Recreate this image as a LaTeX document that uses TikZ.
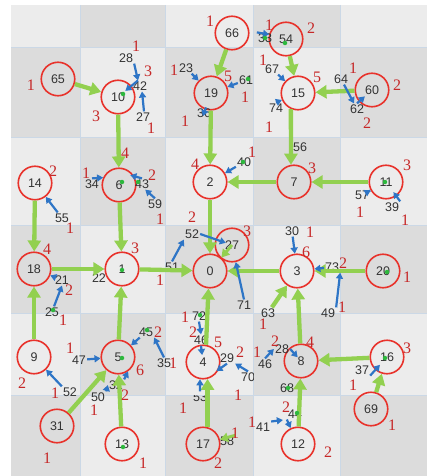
\documentclass[tikz,border=0pt]{standalone}
\usepackage{fontspec}
\setmainfont{Liberation Sans}
\newfontfamily\serifnum{Liberation Serif}
\usetikzlibrary{arrows.meta}
\definecolor{cellL}{HTML}{ECECEC}
\definecolor{cellD}{HTML}{DCDCDC}
\definecolor{gridc}{HTML}{CBD8E6}
\definecolor{circred}{HTML}{E8322B}
\definecolor{numred}{HTML}{C62828}
\definecolor{garrowc}{HTML}{92D050}
\definecolor{barrowc}{HTML}{2E75C6}
\definecolor{gdot}{HTML}{2DB83D}
\definecolor{txt}{HTML}{333333}
\tikzset{
 circ/.style={circle, draw=circred, line width=1.6pt, minimum size=33.5pt, inner sep=0pt, font=\fontsize{12.5}{12.5}\selectfont, text=txt},
 lab/.style={inner sep=1pt, font=\fontsize{12.5}{12.5}\selectfont, text=txt},
 rnum/.style={inner sep=0pt, font=\serifnum\fontsize{16}{16}\selectfont, text=numred},
 garr/.style={draw=garrowc, line width=4.3pt, -{Triangle[length=11pt,width=13pt]}},
 garrs/.style={draw=garrowc, line width=3pt, -{Triangle[length=8pt,width=9pt]}},
 barr/.style={draw=barrowc, line width=2.2pt, -{Triangle[length=6pt,width=7pt]}},
 gdotst/.style={circle, fill=gdot, inner sep=0pt, minimum size=4.5pt},
}
\begin{document}
\begin{tikzpicture}[x=1pt,y=-1pt]
\useasboundingbox (0,0) rectangle (427,476);
\fill[white] (0,0) rectangle (427,476);
% cells
\foreach \ri/\ya/\yb in {0/5/47,1/47/137,2/137/225,3/225/313,4/313/395,5/395/476}{
  \foreach \ci/\xa/\xb in {0/11/80,1/80/165,2/165/253,3/253/340,4/340/427}{
    \pgfmathtruncatemacro{\cellpar}{mod(\ri+\ci,2)}
    \ifnum\cellpar=0 \fill[cellL] (\xa,\ya) rectangle (\xb,\yb);
    \else \fill[cellD] (\xa,\ya) rectangle (\xb,\yb); \fi
  }
}
\foreach \gx in {80,165,253,340} \draw[gridc, line width=0.8pt] (\gx,5) -- (\gx,476);
\foreach \gy in {47,137,225,313,395} \draw[gridc, line width=0.8pt] (11,\gy) -- (427,\gy);

% circle nodes
\node[circ] (n65) at (58,79) {65};
\node[circ] (n10) at (118,97) {10};
\node[circ] (n66) at (232,33) {66};
\node[circ] (n54) at (286,39) {54};
\node[circ] (n19) at (211,93) {19};
\node[circ] (n15) at (298,93) {15};
\node[circ] (n60) at (372,90) {60};
\node[circ] (n14) at (35,183) {14};
\node[circ] (n6) at (119,185) {6};
\node[circ] (n2) at (210,182) {2};
\node[circ] (n7) at (294,182) {7};
\node[circ] (n11) at (386,182) {11};
\node[circ] (n18) at (34,269) {18};
\node[circ] (n1) at (122,269) {1};
\node[circ] (n0) at (210,271) {0};
\node[circ] (n27c) at (232,245) {27};
\node[circ] (n3) at (297,271) {3};
\node[circ] (n20) at (383,271) {20};
\node[circ] (n9) at (34,357) {9};
\node[circ] (n5) at (118,357) {5};
\node[circ] (n4) at (203,362) {4};
\node[circ] (n8) at (301,361) {8};
\node[circ] (n16) at (387,357) {16};
\node[circ] (n31) at (57,426) {31};
\node[circ] (n13) at (122,444) {13};
\node[circ] (n17) at (203,444) {17};
\node[circ] (n12) at (298,444) {12};
\node[circ] (n69) at (371,409) {69};

% labels
\node[lab] (l28) at (126,58) {28};
\node[lab] (l42) at (140,86) {42};
\node[lab] (l27) at (143,117) {27};
\node[lab] (l23) at (186,68) {23};
\node[lab] (l36) at (204,113) {36};
\node[lab] (l61) at (246,80) {61};
\node[lab] (l33) at (265,38) {33};
\node[lab] (l67) at (272,69) {67};
\node[lab] (l74) at (276,108) {74};
\node[lab] (l64) at (341,79) {64};
\node[lab] (l62) at (357,109) {62};
\node[lab] (l56) at (300,147) {56};
\node[lab] (l55) at (62,218) {55};
\node[lab] (l34) at (92,184) {34};
\node[lab] (l43) at (142,184) {43};
\node[lab] (l59) at (155,204) {59};
\node[lab] (l40) at (244,162) {40};
\node[lab] (l57) at (362,195) {57};
\node[lab] (l39) at (392,207) {39};
\node[lab] (l21) at (62,280) {21};
\node[lab] (l22) at (99,278) {22};
\node[lab] (l25) at (52,312) {25};
\node[lab] (l51) at (172,267) {51};
\node[lab] (l52a) at (192,234) {52};
\node[lab] (l71) at (244,305) {71};
\node[lab] (l30) at (292,231) {30};
\node[lab] (l73) at (332,267) {73};
\node[lab] (l49) at (328,313) {49};
\node[lab] (l63) at (268,313) {63};
\node[lab] (l47) at (79,360) {47};
\node[lab] (l45) at (146,332) {45};
\node[lab] (l35) at (164,363) {35};
\node[lab] (l52b) at (70,392) {52};
\node[lab] (l50) at (98,397) {50};
\node[lab] (l32) at (116,385) {32};
\node[lab] (l72) at (199,316) {72};
\node[lab] (l46a) at (201,340) {46};
\node[lab] (l29) at (227,358) {29};
\begin{scope}
 \clip (165,313) rectangle (253,395);
 \node[lab] (l70) at (248,377) {70};
\end{scope}
\begin{scope}
 \clip (165,395) rectangle (253,476);
 \node[lab] (l53) at (200,397) {53};
\end{scope}
\node[lab] (l58) at (227,441) {58};
\node[lab] (l28b) at (282,349) {28};
\node[lab] (l46b) at (265,364) {46};
\node[lab] (l68) at (287,388) {68};
\node[lab] (l44) at (295,414) {44};
\node[lab] (l41) at (263,427) {41};
\node[lab] (l37) at (362,370) {37};

% green arrows
\draw[garr] (n65) -- (n10);
\draw[garr] (n10) -- (n6);
\draw[garr] (n66) -- (n19);
\draw[garr] (n54) -- (n15);
\draw[garr] (n60) -- (n15);
\draw[garr] (n19) -- (n2);
\draw[garr] (n15.-114) -- (n7.100);
\draw[garr] (n7) -- (n2);
\draw[garr] (n11) -- (n7);
\draw[garr] (n14) -- (n18);
\draw[garr] (n6) -- (n1);
\draw[garr] (n2) -- (n0);
\draw[garr] (n18) -- (n1);
\draw[garr] (n1) -- (n0);
\draw[garr] (n3) -- (n0);
\draw[garr] (n20) -- (n3);
\draw[garrs] (n27c.center) -- (n0);
\draw[garr] (n4.80) -- (n0.-95);
\draw[garr] (n9) -- (n18);
\draw[garr] (n5) -- (n1);
\draw[garr] (n31) -- (n5);
\draw[garr] (n13) -- (n5);
\draw[garr] (n17.75) -- (n4.-75);
\draw[garr] (n8) -- (n3);
\draw[garr] (n12) -- (n8);
\draw[garr] (n16) -- (n8);
\draw[garr] (n69) -- (n16);
\draw[garr] (l63) -- (n3);
\draw[garrs] (l58.north east) -- (n17.15);

% blue arrows
\draw[barr] (l28.south east) -- (l42.110);
\draw[barr, shorten >=-8pt] (l42.110) -- (n10);
\draw[barr] (l27.80) -- (l42.-70);
\draw[barr] (l23) -- (n19);
\draw[barr, shorten >=-7pt] (l36) -- (n19);
\draw[barr] (l61) -- (n19);
\draw[barr] (l33.north west) -- (n54.165);
\draw[barr] (l67) -- (n15);
\draw[barr] (l74.north) -- (n15);
\draw[barr] (l64) -- (l62);
\draw[barr, shorten >=-8pt] (l62.north) -- (n60);
\draw[barr] (l55) -- (n14);
\draw[barr] (l34.north) -- (n6.155);
\draw[barr, shorten >=-4pt] (l43.north) -- (n6.30);
\draw[barr] (l59.north) -- (l43.-60);
\draw[barr] (l40) -- (n2);
\draw[barr] (l57) -- (n11);
\draw[barr, shorten >=-5pt] (l39.north east) -- (n11);
\draw[barr] (l21) -- (n18);
\draw[barr] (l25.70) -- (l21.south);
\draw[barr] (l51.north) -- (l52a.south west);
\draw[barr, shorten >=-11pt] (l52a.east) -- (n27c);
\draw[barr] (l71.north) -- (n27c);
\draw[barr] (l30) -- (n3);
\draw[barr] (l73) -- (n3);
\draw[barr] (l49.north east) -- (l73.south east);
\draw[barr] (l47) -- (n5);
\draw[barr] (l45) -- (n5);
\draw[barr] (l35.north) -- (l45.south east);
\draw[barr] (l52b.north west) -- (n9);
\draw[barr] (l50.north east) -- (l32.west);
\draw[barr] (l32.north east) -- (n5.-55);
\draw[barr] (l72.south) -- (l46a.north);
\draw[barr, shorten >=7pt] (l46a.south) -- (n4.center);
\draw[barr, shorten >=-3pt] (l29.south) -- (n4.-25);
\draw[barr] (l70.north) -- (l29.south east);
\draw[barr] (l53.north) -- (n4.-100);
\draw[barr, shorten >=5pt] (l28b.east) -- (n8.center);
\draw[barr] (l46b.north) -- (l28b.west);
\draw[barr, shorten >=4pt] (l41.north east) -- (l44.south west);
\draw[barr] (l44.south west) -- (n12.115);
\draw[barr, shorten >=-7pt] (l37.south east) -- (n16);

% green dots
\foreach \dx/\dy [count=\di] in {123/94,285/43,248/79,122/182,138/182,243/162,385/182,122/270,53/310,387/272,122/358,147/330,123/447,200/315,288/388,297/413,385/358,265/38}
  \node[gdotst] (gd\di) at (\dx,\dy) {};

% red numbers
\foreach \rx/\ry/\rv [count=\rk] in {31/85/1,96/116/3,136/46/1,148/71/3,151/128/1,125/153/4,210/21/1,174/70/1,228/76/5,245/97/1,185/121/1,269/25/1,311/28/2,263/60/1,317/77/5,269/127/1,353/68/1,397/85/2,367/123/2,53/171/2,70/228/1,86/173/1,152/175/2,160/219/1,195/164/4,252/152/1,312/168/3,407/165/3,360/212/1,405/220/1,47/249/4,69/290/2,63/320/1,135/248/3,160/280/1,192/217/2,247/231/3,310/232/1,306/252/6,343/263/2,407/277/1,342/307/1,263/324/1,22/383/2,70/348/1,140/370/6,158/332/2,173/363/1,55/393/1,94/410/1,125/395/2,185/317/1,193/332/2,218/342/5,240/352/2,238/395/1,183/408/1,275/341/2,257/352/1,310/342/4,407/348/3,353/385/1,47/458/1,143/463/1,218/463/2,235/433/1,286/407/2,252/422/1,328/452/2,392/425/1}
  \node[rnum] (rn\rk) at (\rx,\ry) {\rv};
\end{tikzpicture}
\end{document}
